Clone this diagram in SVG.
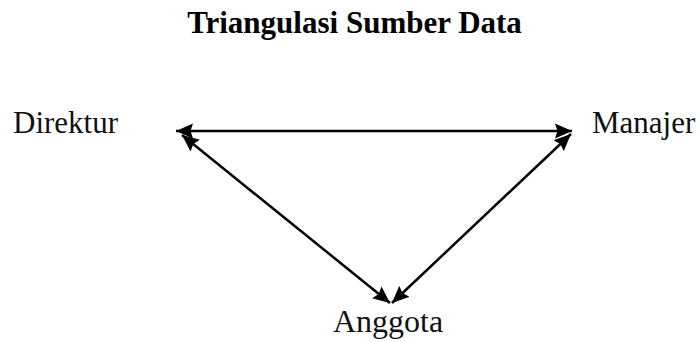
<svg xmlns="http://www.w3.org/2000/svg" width="699" height="342" viewBox="0 0 699 342">
<style>
.lbl{font-family:"Liberation Serif","Times New Roman",serif;font-size:31px;fill:#111}
.title{font-family:"Liberation Serif","Times New Roman",serif;font-size:31px;font-weight:bold;fill:#000}
.conn{stroke:#000;stroke-width:2.5;fill:none;marker-start:url(#ah);marker-end:url(#ah)}
</style>
<defs>
<marker id="ah" markerUnits="userSpaceOnUse" markerWidth="18" markerHeight="16" refX="17" refY="8" orient="auto-start-reverse" viewBox="0 0 18 16">
<path d="M0,0.5 L17,8 L0,15.5 L2.5,8 Z" fill="#000"/>
</marker>
</defs>
<rect width="699" height="342" fill="#fff"/>
<g id="title"><text class="title" x="354.5" y="33" text-anchor="middle">Triangulasi Sumber Data</text></g>
<g id="direktur"><text class="lbl" x="13" y="133">Direktur</text></g>
<g id="manajer"><text class="lbl" x="592" y="133">Manajer</text></g>
<g id="anggota"><text class="lbl" x="333" y="332" style="font-size:32px">Anggota</text></g>
<g id="connectors">
<line class="conn" x1="176" y1="131" x2="572" y2="131"/>
<line class="conn" x1="182" y1="135" x2="390" y2="303"/>
<line class="conn" x1="571" y1="134" x2="392" y2="303"/>
</g>
</svg>
